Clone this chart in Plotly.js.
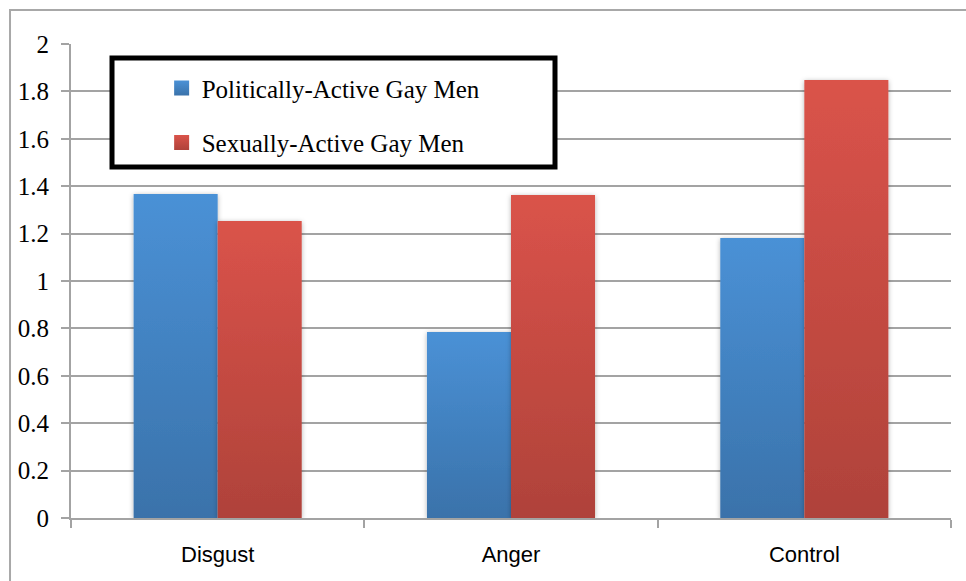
<!DOCTYPE html>
<html>
<head>
<meta charset="utf-8">
<script src="https://cdn.plot.ly/plotly-3.0.1.min.js"></script>
<style>
html,body{margin:0;padding:0;background:#fff;}
#chart{width:966px;height:581px;}
</style>
</head>
<body>
<div id="chart"></div>
<script>
const categories = ["Disgust", "Anger", "Control"];
const seriesNames = ["Politically-Active Gay Men", "Sexually-Active Gay Men"];
const politicallyActive = [1.367, 0.785, 1.181];
const sexuallyActive = [1.253, 1.363, 1.848];
const yTickValues = [0, 0.2, 0.4, 0.6, 0.8, 1, 1.2, 1.4, 1.6, 1.8, 2];
const yTickLabels = ["0", "0.2", "0.4", "0.6", "0.8", "1", "1.2", "1.4", "1.6", "1.8", "2"];

const traces = [
  {type: "bar", name: seriesNames[0], x: categories, y: politicallyActive,
   marker: {color: "#4383c2", line: {width: 0}}, legendgroup: "a", hoverinfo: "none"},
  {type: "bar", name: seriesNames[1], x: categories, y: sexuallyActive,
   marker: {color: "#c94b43", line: {width: 0}}, legendgroup: "b", hoverinfo: "none"}
];

const gridCol = "#a3a3a3";
const serif = "'Liberation Serif', 'Times New Roman', Times, serif";
const layout = {
  width: 966, height: 581,
  margin: {l: 71, r: 15, t: 44, b: 63, pad: 0},
  paper_bgcolor: "#ffffff", plot_bgcolor: "#ffffff",
  barmode: "group", bargap: 0.427, bargroupgap: 0,
  showlegend: true,
  legend: {
    x: 0.103, xanchor: "left", y: 0.955, yanchor: "top",
    bgcolor: "rgba(0,0,0,0)", borderwidth: 0,
    font: {family: serif, size: 25, color: "#000"},
    traceorder: "grouped", tracegroupgap: 19
  },
  xaxis: {
    type: "category", showgrid: false, zeroline: false,
    showline: true, linecolor: gridCol, linewidth: 2,
    ticks: "outside", tickson: "boundaries", ticklen: 8, tickwidth: 2, tickcolor: gridCol,
    tickfont: {family: "'Liberation Sans', Arial, sans-serif", size: 22, color: "#000"},
    ticklabelstandoff: 16
  },
  yaxis: {
    range: [0, 2], tickvals: yTickValues, ticktext: yTickLabels,
    showgrid: true, gridcolor: gridCol, gridwidth: 2, zeroline: false,
    showline: true, linecolor: gridCol, linewidth: 2,
    ticks: "outside", ticklen: 8, tickwidth: 2, tickcolor: gridCol,
    tickfont: {family: serif, size: 25, color: "#000"},
    ticklabelstandoff: 7
  },
  shapes: [
    {type: "rect", xref: "paper", yref: "paper", x0: -0.0693, x1: 1.1, y0: -0.2, y1: 1.0717,
     line: {color: "#a8a8a8", width: 2}, fillcolor: "rgba(0,0,0,0)", layer: "below"},
    {type: "rect", xref: "paper", yref: "paper", x0: 0.0466, x1: 0.55, y0: 0.7405, y1: 0.9705,
     line: {color: "#000", width: 5}, fillcolor: "#ffffff", layer: "above"}
  ]
};

Plotly.newPlot("chart", traces, layout, {staticPlot: true, displayModeBar: false}).then(function (gd) {
  const svg = gd.querySelector("svg.main-svg");
  const ns = "http://www.w3.org/2000/svg";
  const defs = document.createElementNS(ns, "defs");
  function grad(id, top, bot) {
    const g = document.createElementNS(ns, "linearGradient");
    g.setAttribute("id", id);
    g.setAttribute("x1", "0"); g.setAttribute("y1", "0");
    g.setAttribute("x2", "0"); g.setAttribute("y2", "1");
    const s1 = document.createElementNS(ns, "stop");
    s1.setAttribute("offset", "0"); s1.setAttribute("stop-color", top);
    const s2 = document.createElementNS(ns, "stop");
    s2.setAttribute("offset", "1"); s2.setAttribute("stop-color", bot);
    g.appendChild(s1); g.appendChild(s2);
    defs.appendChild(g);
  }
  grad("gblue", "#4a91d6", "#3a72aa");
  grad("gred", "#da534a", "#af423a");
  const f = document.createElementNS(ns, "filter");
  f.setAttribute("id", "shadow");
  f.setAttribute("x", "-20%"); f.setAttribute("y", "-20%");
  f.setAttribute("width", "140%"); f.setAttribute("height", "140%");
  f.innerHTML = '<feDropShadow dx="0" dy="1" stdDeviation="2.5" flood-color="#000" flood-opacity="0.3"/>';
  defs.appendChild(f);
  svg.insertBefore(defs, svg.firstChild);
  const ids = ["gblue", "gred"];
  gd.querySelectorAll(".barlayer .trace.bars").forEach(function (tr, i) {
    tr.querySelectorAll("path").forEach(function (p) {
      p.style.fill = "url(#" + ids[i] + ")";
      p.style.filter = "url(#shadow)";
    });
  });
  gd.querySelectorAll(".legend .traces").forEach(function (tr, i) {
    const p = tr.querySelector(".legendpoints path");
    if (p) { p.style.fill = "url(#" + ids[i] + ")"; p.setAttribute("d", "M7.5,7.5H-7.5V-7.5H7.5Z"); }
  });
});
</script>
</body>
</html>
